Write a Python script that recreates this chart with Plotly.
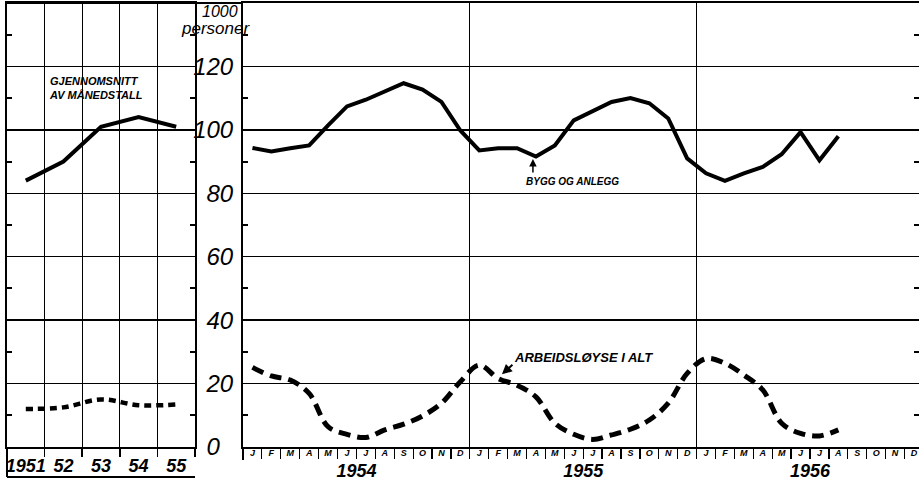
import plotly.graph_objects as go

# ---------------- data ----------------
years = [1951, 1952, 1953, 1954, 1955]
year_labels = ["1951", "52", "53", "54", "55"]
bygg_annual = [84, 90, 101, 104, 101]
ledige_annual = [12, 12.5, 15, 13.2, 13.4]

month_letters = ["J", "F", "M", "A", "M", "J", "J", "A", "S", "O", "N", "D"]
month_years = ["1954", "1955", "1956"]
bygg_monthly = [94.3, 93.2, 94.2, 95.1, 101.4, 107.4, 109.5, 112.2, 114.7, 112.7, 108.8, 99.8,
                93.5, 94.2, 94.2, 91.6, 95.1, 103.0, 106.0, 108.8, 110.0, 108.4, 103.6, 91.0,
                86.3, 83.9, 86.3, 88.3, 92.3, 99.3, 90.4, 98.0]
ledige_monthly = [25.1, 22.4, 21.1, 16.9, 6.4, 4.0, 3.0, 5.4, 7.2, 9.8, 13.8, 20.6,
                  25.8, 21.6, 19.5, 15.8, 7.5, 4.0, 2.4, 3.8, 5.6, 8.5, 13.8, 23.2,
                  27.9, 26.4, 22.7, 18.0, 7.5, 4.3, 3.5, 5.4]
y_ticks = [0, 20, 40, 60, 80, 100, 120]

# ---------------- derived ----------------
n_months = 12 * len(month_years)
m_idx = list(range(len(bygg_monthly)))
all_idx = list(range(n_months))
W, H = 919, 480

def px(v):
    return v / W

def py(v):
    return (H - v) / H

FONT = "Liberation Sans"
BLACK = "black"

fig = go.Figure()

# left panel (annual averages)
fig.add_trace(go.Scatter(x=years, y=bygg_annual, mode="lines", xaxis="x", yaxis="y",
                         line=dict(color=BLACK, width=4), hoverinfo="skip", showlegend=False))
fig.add_trace(go.Scatter(x=years, y=ledige_annual, mode="lines", xaxis="x", yaxis="y",
                         line=dict(color=BLACK, width=4.5, dash="7px,5px", shape="spline"),
                         hoverinfo="skip", showlegend=False))
# right panel (monthly)
fig.add_trace(go.Scatter(x=m_idx, y=bygg_monthly, mode="lines", xaxis="x2", yaxis="y2",
                         line=dict(color=BLACK, width=4), hoverinfo="skip", showlegend=False))
fig.add_trace(go.Scatter(x=m_idx, y=ledige_monthly, mode="lines", xaxis="x2", yaxis="y2",
                         line=dict(color=BLACK, width=5, dash="12px,7px", shape="spline",
                                   smoothing=1.0),
                         hoverinfo="skip", showlegend=False))
# invisible helpers to register overlay axes
for xa in ["x3", "x4"]:
    fig.add_trace(go.Scatter(x=[0, n_months - 1], y=[None, None], mode="lines", xaxis=xa,
                             yaxis="y2", hoverinfo="skip", showlegend=False))

ydom = [py(447), py(3)]
grid_w = 1.3

fig.update_layout(
    width=W, height=H,
    margin=dict(l=0, r=0, t=0, b=0, pad=0, autoexpand=False),
    paper_bgcolor="white", plot_bgcolor="white",
    showlegend=False,
    xaxis=dict(domain=[px(7), px(195)], range=[1950.5, 1955.5], anchor="y", automargin=False,
               tickvals=years, ticktext=year_labels, ticks="",
               tickfont=dict(family=FONT, size=18, color=BLACK, style="italic", weight="bold"),
               showgrid=False, zeroline=False, showline=True, linecolor=BLACK, linewidth=2,
               mirror=True, ticklabelstandoff=1,
               minor=dict(tick0=1950.5, dtick=1, showgrid=True, gridcolor=BLACK,
                          gridwidth=grid_w, ticks="outside", ticklen=8, tickcolor=BLACK,
                          tickwidth=1.5)),
    yaxis=dict(domain=ydom, range=[0, 140], anchor="x", tickvals=y_ticks, automargin=False,
               showticklabels=False, ticks="", showgrid=True, gridcolor=BLACK,
               gridwidth=grid_w, zeroline=False, showline=True, linecolor=BLACK,
               linewidth=2, mirror="ticks",
               minor=dict(tick0=10, dtick=20, ticks="inside", ticklen=5, tickcolor=BLACK,
                          tickwidth=2)),
    xaxis2=dict(domain=[px(243), 1.0], range=[-0.5, (W - 243) / 18.9 - 0.5], anchor="y2",
                automargin=False,
                tickvals=[12 * k - 0.5 for k in range(1, len(month_years))],
                showticklabels=False, ticks="", showgrid=True, gridcolor=BLACK,
                gridwidth=grid_w, zeroline=False, showline=True, linecolor=BLACK,
                linewidth=2, mirror=True,
                minor=dict(tick0=-0.5, dtick=1, ticks="outside", ticklen=10,
                           tickcolor=BLACK, tickwidth=1.2, showgrid=False)),
    xaxis3=dict(overlaying="x2", anchor="y2", side="bottom", matches="x2", automargin=False,
                tickvals=all_idx, ticktext=month_letters * len(month_years), ticks="",
                showgrid=False, showline=False, zeroline=False, ticklabelstandoff=-1,
                tickfont=dict(family=FONT, size=9, color=BLACK, style="italic", weight="bold")),
    xaxis4=dict(overlaying="x2", anchor="y2", side="bottom", matches="x2", automargin=False,
                tickvals=[12 * k + 5.5 for k in range(len(month_years))],
                ticktext=month_years, ticks="", showgrid=False, showline=False,
                zeroline=False, ticklabelstandoff=11,
                tickfont=dict(family=FONT, size=18, color=BLACK, style="italic", weight="bold")),
    yaxis2=dict(domain=ydom, range=[0, 140], anchor="x2", side="left", automargin=False,
                tickvals=y_ticks,
                ticktext=[(str(v) + "\u2007") if v < 10 else str(v) for v in y_ticks],
                tickfont=dict(family=FONT, size=24, color=BLACK, style="italic"),
                ticks="", ticklabelstandoff=3, showgrid=True, gridcolor=BLACK,
                gridwidth=grid_w, zeroline=False, showline=True, linecolor=BLACK,
                linewidth=2, mirror="ticks",
                minor=dict(tick0=10, dtick=20, ticks="inside", ticklen=5, tickcolor=BLACK,
                           tickwidth=2)),
)

# frame pieces around the strips
shapes = [
    dict(type="line", xref="paper", yref="paper", x0=px(7), x1=px(243), y0=py(3), y1=py(3),
         line=dict(color=BLACK, width=2)),
    dict(type="line", xref="paper", yref="paper", x0=px(7), x1=px(195), y0=py(477), y1=py(477),
         line=dict(color=BLACK, width=2)),
    dict(type="line", xref="paper", yref="paper", x0=px(7), x1=px(7), y0=py(447), y1=py(477),
         line=dict(color=BLACK, width=2)),
    dict(type="line", xref="paper", yref="paper", x0=px(195), x1=px(195), y0=py(447), y1=py(453),
         line=dict(color=BLACK, width=2)),
    dict(type="line", xref="paper", yref="paper", x0=px(243), x1=px(243), y0=py(447), y1=py(460),
         line=dict(color=BLACK, width=2)),
]
fig.update_layout(shapes=shapes)

ann_font = dict(family=FONT, color=BLACK, style="italic")
annotations = [
    dict(xref="paper", yref="paper", x=px(220), y=py(11), text="1000", showarrow=False,
         font=dict(size=16, **ann_font), xanchor="center", yanchor="middle"),
    dict(xref="paper", yref="paper", x=px(215), y=py(28), text="personer", showarrow=False,
         font=dict(size=17, **ann_font), xanchor="center", yanchor="middle"),
    dict(xref="paper", yref="paper", x=px(47), y=py(88),
         text="GJENNOMSNITT<br>AV MÅNEDSTALL", showarrow=False, align="left",
         font=dict(size=11, weight="bold", **ann_font), xanchor="left", yanchor="middle"),
    dict(xref="paper", yref="paper", x=px(524), y=py(181), text="BYGG OG ANLEGG",
         showarrow=False, font=dict(size=10, weight="bold", **ann_font),
         xanchor="left", yanchor="middle"),
    dict(xref="paper", yref="paper", x=px(512), y=py(357), text="ARBEIDSLØYSE I ALT",
         showarrow=False, font=dict(size=13, weight="bold", **ann_font),
         xanchor="left", yanchor="middle"),
    # arrows
    dict(xref="x2", yref="y2", x=15 - 0.16, y=bygg_monthly[15] - 0.8, text="",
         showarrow=True, arrowhead=2, arrowsize=1, arrowwidth=1.5, arrowcolor=BLACK,
         ax=0, ay=15),
    dict(xref="x2", yref="y2", x=13.2, y=ledige_monthly[13] + 1.3, text="",
         showarrow=True, arrowhead=2, arrowsize=1, arrowwidth=2, arrowcolor=BLACK,
         ax=12, ay=-11),
]
fig.update_layout(annotations=annotations)

fig.write_html("out.html", config={"displayModeBar": False, "staticPlot": True},
               post_script="document.body.style.margin='0px';"
                           "document.body.style.overflow='hidden';")
